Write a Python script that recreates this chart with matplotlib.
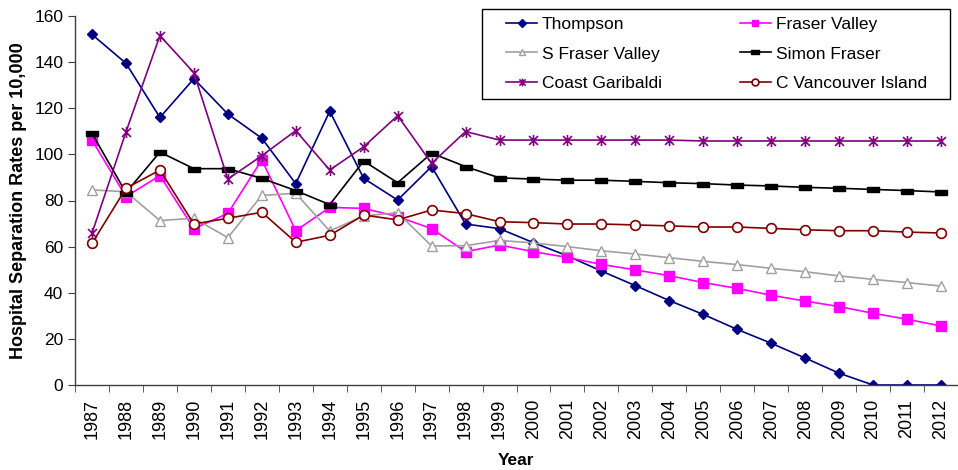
#! /usr/bin/env python3
# -*- coding: utf-8 -*-

' hospital separation rates by health region, 1987-2012 '

import numpy as np
import matplotlib
matplotlib.use('Agg')
import matplotlib.pyplot as plt
from matplotlib.path import Path
from matplotlib.patches import Rectangle

plt.rcParams['font.family'] = ['Liberation Sans', 'DejaVu Sans']

YEARS = [str(y) for y in range(1987, 2013)]

THOMPSON = [152, 139.5, 116, 132.8, 117.5, 107, 87.3, 118.7, 89.6, 80.2, 94.7, 69.8,
            67.8, 61.7, 56, 49.4, 43.1, 36.6, 30.6, 24.1, 18.1, 11.7, 5.1, 0, 0, 0]
FRASER_VALLEY = [106.2, 81.7, 90.8, 67.8, 74.4, 97.6, 66.9, 77, 76.6, 73, 67.8, 57.8,
                 60.7, 57.8, 55.3, 52.3, 49.9, 47.4, 44.4, 41.9, 38.9, 36.4, 34, 31.1, 28.5, 25.6]
S_FRASER_VALLEY = [84.6, 83.8, 71.3, 72.3, 63.9, 82.2, 83.1, 66.8, 73.3, 74.7, 60.3, 60.4,
                   62.7, 61.6, 60, 58.2, 56.8, 55.2, 53.6, 52.2, 50.6, 49.1, 47.3, 45.8, 44.4, 42.9]
SIMON_FRASER = [109.1, 83.4, 101, 93.8, 93.8, 89.6, 84.3, 78.2, 97.1, 87.7, 100.5, 94.7,
                89.8, 89.3, 88.8, 88.8, 88.3, 87.7, 87.3, 86.7, 86.3, 85.7, 85.3, 84.8, 84.3, 83.7]
COAST_GARIBALDI = [65.8, 109.7, 151.5, 135.4, 89.3, 99.4, 110.3, 93.2, 103.3, 116.8, 96.1, 109.9,
                   106.2, 106.2, 106.2, 106.2, 106.2, 106.2, 105.8, 105.8, 105.8, 105.8, 105.8,
                   105.8, 105.8, 105.8]
C_VANCOUVER_ISLAND = [61.4, 85.3, 93.2, 69.8, 72.3, 74.9, 61.9, 64.9, 73.7, 71.6, 75.9, 74.3,
                      70.8, 70.4, 69.8, 69.8, 69.4, 69, 68.5, 68.5, 67.9, 67.3, 66.9, 66.9, 66.3, 65.9]

# asterisk: vertical stroke plus an x
STAR = Path([(0, -1), (0, 1), (-0.8, -0.8), (0.8, 0.8), (-0.8, 0.8), (0.8, -0.8)],
            [Path.MOVETO, Path.LINETO, Path.MOVETO, Path.LINETO, Path.MOVETO, Path.LINETO])
# flat black bar
BAR = [(-1, -0.45), (1, -0.45), (1, 0.45), (-1, 0.45), (-1, -0.45)]

W, H = 958, 470


def main():
    fig = plt.figure(figsize=(W / 100, H / 100), dpi=100)
    ax = fig.add_axes([75 / W, 85 / H, 883 / W, 369 / H])
    x = np.arange(len(YEARS))

    l_th, = ax.plot(x, THOMPSON, '-', color='#000080', lw=1.2, marker='D', ms=5.5,
                    mfc='#000080', mec='#000080', label='Thompson')
    l_fv, = ax.plot(x, FRASER_VALLEY, '-', color='#FF00FF', lw=1.2, marker='s', ms=7,
                    mfc='#FF00FF', mec='#FF00FF', label='Fraser Valley')
    l_sfv, = ax.plot(x, S_FRASER_VALLEY, '-', color='#A0A0A0', lw=1.2, marker='^', ms=7,
                     mfc='white', mec='#A0A0A0', mew=1, label='S Fraser Valley')
    l_sf, = ax.plot(x, SIMON_FRASER, '-', color='black', lw=1.2, marker=BAR, ms=8,
                    mfc='black', mec='black', label='Simon Fraser')
    l_cg, = ax.plot(x, COAST_GARIBALDI, '-', color='#800080', lw=1.2, marker=STAR, ms=8,
                    mfc='none', mec='#800080', mew=1.2, label='Coast Garibaldi')
    l_cvi, = ax.plot(x, C_VANCOUVER_ISLAND, '-', color='#800000', lw=1.2, marker='o', ms=7,
                     mfc='white', mec='#800000', mew=1.2, label='C Vancouver Island')

    ax.set_xlim(-0.5, 25.32)
    ax.set_ylim(0, 160)
    ax.set_yticks(range(0, 161, 20))
    ax.set_xticks(x)
    ax.set_xticklabels(YEARS, rotation=90)
    ax.set_xticks(np.arange(-0.5, 26, 1), minor=True)
    ax.tick_params(axis='x', which='major', length=0, labelsize=13, pad=10)
    ax.tick_params(axis='x', which='minor', length=5, direction='out', color='#404040')
    ax.tick_params(axis='y', length=5, direction='out', color='#404040', labelsize=12.5)

    for side in ('top', 'right'):
        ax.spines[side].set_visible(False)
    for side in ('left', 'bottom'):
        ax.spines[side].set_color('#404040')
        ax.spines[side].set_linewidth(1.0)

    ax.set_ylabel('Hospital Separation Rates per 10,000', fontsize=13, fontweight='bold', labelpad=5)
    ax.set_xlabel('Year', fontsize=12.5, fontweight='bold', labelpad=10)

    # legend reads across rows, so hand the handles over column by column
    handles = [l_th, l_sfv, l_cg, l_fv, l_sf, l_cvi]
    ax.legend(handles=handles, labels=[h.get_label() for h in handles],
              ncol=2, loc='upper left', mode='expand',
              bbox_to_anchor=(506 / W, 1 - 97 / H, 421 / W, 80 / H),
              bbox_transform=fig.transFigure, fontsize=12.5, frameon=False,
              handlelength=1.79, handletextpad=0.29, labelspacing=0.82,
              borderaxespad=0, borderpad=0, columnspacing=1.0, markerscale=0.7)
    # legend frame drawn on its own so the entries sit inset from it
    fig.patches.append(Rectangle((482 / W, 1 - 99 / H), 468 / W, 90 / H,
                                 transform=fig.transFigure, fill=False,
                                 edgecolor='black', lw=1.0, zorder=5))

    plt.savefig('out.png', dpi=100)
    plt.close()


if __name__ == '__main__':
    main()
